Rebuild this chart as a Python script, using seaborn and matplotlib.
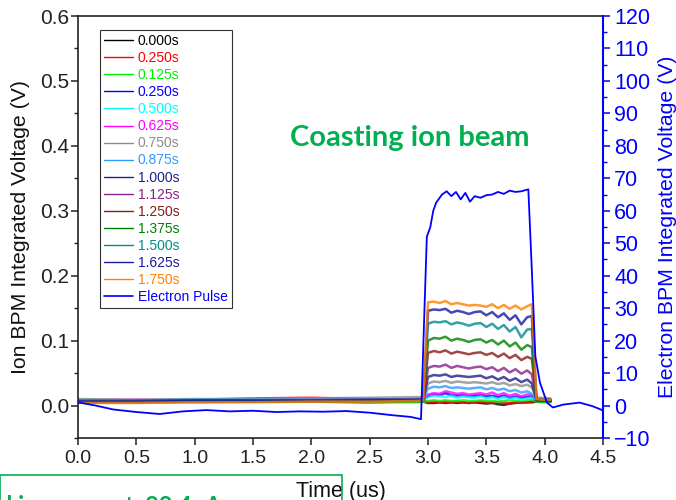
import numpy as np
import pandas as pd
import matplotlib
matplotlib.use("Agg")
import matplotlib.pyplot as plt
from matplotlib.lines import Line2D
from matplotlib.patches import Rectangle
from matplotlib.ticker import MultipleLocator
import seaborn as sns

# ---------------- data ----------------
T_ION = [0.0, 0.5, 1.0, 1.5, 2.0, 2.5, 2.9, 2.96,
         3.0, 3.05, 3.1, 3.15, 3.2, 3.25, 3.3, 3.35, 3.4, 3.45, 3.5, 3.55,
         3.6, 3.65, 3.7, 3.75, 3.8, 3.85, 3.89,
         3.93, 3.97, 4.05]

LABELS = ["0.000s", "0.250s", "0.125s", "0.250s", "0.500s", "0.625s", "0.750s",
          "0.875s", "1.000s", "1.125s", "1.250s", "1.375s", "1.500s", "1.625s",
          "1.750s"]
COLORS = ["#000000", "#FF0000", "#00EE00", "#0000FF", "#00FFFF", "#FF00FF",
          "#8C8C8C", "#2E9BFF", "#1F1F8A", "#8B1F8B", "#8B1A1A", "#008000",
          "#008B8B", "#1A1AA0", "#FF8000"]

ION_0000 = [0.006, 0.005, 0.006, 0.007, 0.006, 0.005, 0.006, 0.006,
            0.004, 0.004, 0.005, 0.004, 0.005, 0.004, 0.005, 0.004, 0.005, 0.004,
            0.003, 0.004, 0.002, 0.001, 0.003, 0.004, 0.005, 0.005, 0.005,
            0.006, 0.006, 0.006]
ION_0250A = [0.008, 0.007, 0.009, 0.011, 0.012, 0.010, 0.009, 0.008,
             0.005, 0.006, 0.005, 0.006, 0.005, 0.006, 0.005, 0.004, 0.005, 0.006,
             0.005, 0.004, 0.005, 0.004, 0.003, 0.005, 0.004, 0.005, 0.006,
             0.007, 0.008, 0.007]
ION_0125 = [0.005, 0.006, 0.005, 0.006, 0.007, 0.006, 0.005, 0.006,
            0.007, 0.008, 0.007, 0.008, 0.007, 0.007, 0.008, 0.007, 0.007, 0.008,
            0.007, 0.007, 0.006, 0.007, 0.008, 0.007, 0.007, 0.008, 0.009,
            0.006, 0.005, 0.005]
ION_0250B = [0.008, 0.007, 0.008, 0.008, 0.009, 0.008, 0.009, 0.009,
             0.014, 0.017, 0.016, 0.019, 0.016, 0.015, 0.016, 0.014, 0.015, 0.016,
             0.014, 0.015, 0.013, 0.015, 0.012, 0.014, 0.012, 0.013, 0.014,
             0.008, 0.008, 0.007]
ION_0500 = [0.009, 0.008, 0.009, 0.010, 0.009, 0.008, 0.009, 0.010,
            0.013, 0.015, 0.014, 0.013, 0.015, 0.012, 0.014, 0.013, 0.012, 0.014,
            0.011, 0.013, 0.010, 0.013, 0.010, 0.012, 0.009, 0.011, 0.012,
            0.009, 0.010, 0.009]
ION_0625 = [0.008, 0.009, 0.008, 0.009, 0.010, 0.009, 0.008, 0.009,
            0.017, 0.019, 0.018, 0.022, 0.020, 0.018, 0.019, 0.017, 0.018, 0.019,
            0.017, 0.020, 0.016, 0.019, 0.015, 0.018, 0.014, 0.017, 0.016,
            0.009, 0.009, 0.008]
ION_0750 = [0.010, 0.009, 0.010, 0.010, 0.011, 0.012, 0.013, 0.013,
            0.034, 0.037, 0.036, 0.038, 0.035, 0.037, 0.036, 0.035, 0.036, 0.035,
            0.034, 0.036, 0.033, 0.035, 0.031, 0.033, 0.030, 0.032, 0.028,
            0.012, 0.012, 0.011]
ION_0875 = [0.008, 0.008, 0.009, 0.009, 0.009, 0.009, 0.010, 0.010,
            0.026, 0.029, 0.028, 0.030, 0.027, 0.028, 0.027, 0.026, 0.027, 0.028,
            0.025, 0.027, 0.024, 0.026, 0.022, 0.024, 0.020, 0.022, 0.018,
            0.010, 0.010, 0.009]
ION_1000 = [0.007, 0.007, 0.008, 0.008, 0.008, 0.009, 0.009, 0.010,
            0.044, 0.047, 0.046, 0.048, 0.044, 0.046, 0.045, 0.044, 0.045, 0.046,
            0.042, 0.045, 0.040, 0.044, 0.038, 0.042, 0.036, 0.040, 0.034,
            0.010, 0.009, 0.009]
ION_1125 = [0.006, 0.007, 0.007, 0.008, 0.008, 0.008, 0.009, 0.009,
            0.058, 0.061, 0.060, 0.063, 0.058, 0.061, 0.059, 0.057, 0.059, 0.060,
            0.056, 0.059, 0.053, 0.058, 0.051, 0.056, 0.049, 0.054, 0.048,
            0.009, 0.008, 0.008]
ION_1250 = [0.005, 0.006, 0.006, 0.007, 0.007, 0.008, 0.008, 0.009,
            0.081, 0.084, 0.082, 0.085, 0.080, 0.083, 0.081, 0.079, 0.081, 0.082,
            0.078, 0.081, 0.075, 0.080, 0.073, 0.078, 0.070, 0.075, 0.072,
            0.009, 0.008, 0.008]
ION_1375 = [0.005, 0.005, 0.006, 0.006, 0.007, 0.007, 0.008, 0.008,
            0.100, 0.104, 0.103, 0.106, 0.100, 0.103, 0.101, 0.098, 0.101, 0.102,
            0.097, 0.101, 0.094, 0.100, 0.091, 0.097, 0.086, 0.093, 0.090,
            0.008, 0.008, 0.007]
ION_1500 = [0.006, 0.006, 0.006, 0.007, 0.007, 0.008, 0.008, 0.009,
            0.126, 0.129, 0.128, 0.130, 0.125, 0.128, 0.126, 0.123, 0.126, 0.127,
            0.121, 0.126, 0.118, 0.124, 0.114, 0.121, 0.105, 0.117, 0.118,
            0.009, 0.008, 0.008]
ION_1625 = [0.006, 0.006, 0.007, 0.007, 0.007, 0.008, 0.008, 0.009,
            0.146, 0.148, 0.147, 0.149, 0.143, 0.146, 0.144, 0.141, 0.144, 0.145,
            0.139, 0.144, 0.136, 0.142, 0.132, 0.139, 0.125, 0.136, 0.138,
            0.009, 0.008, 0.008]
ION_1750 = [0.004, 0.004, 0.005, 0.005, 0.006, 0.006, 0.007, 0.008,
            0.159, 0.160, 0.158, 0.161, 0.156, 0.158, 0.156, 0.154, 0.155, 0.154,
            0.152, 0.156, 0.150, 0.155, 0.149, 0.154, 0.148, 0.153, 0.156,
            0.010, 0.009, 0.009]

ION_SERIES = [ION_0000, ION_0250A, ION_0125, ION_0250B, ION_0500, ION_0625,
              ION_0750, ION_0875, ION_1000, ION_1125, ION_1250, ION_1375,
              ION_1500, ION_1625, ION_1750]

T_E = [0.0, 0.15, 0.3, 0.5, 0.7, 0.9, 1.1, 1.3, 1.5, 1.7, 1.9, 2.1, 2.3, 2.5,
       2.7, 2.85, 2.94, 2.97, 2.99, 3.02, 3.045, 3.07, 3.12, 3.16, 3.2, 3.24,
       3.28, 3.32, 3.36, 3.4, 3.45, 3.5, 3.55, 3.6, 3.65, 3.7, 3.75, 3.8, 3.86,
       3.89, 3.92, 3.96, 4.02, 4.07, 4.16, 4.3, 4.41, 4.5]
E_PULSE = [1.0, 0.0, -1.2, -2.0, -2.6, -1.8, -1.4, -1.8, -1.6, -2.0, -1.8, -1.9,
           -1.7, -2.2, -3.0, -3.5, -4.2, 30.0, 52.0, 55.0, 60.0, 62.5, 65.0,
           66.0, 64.5, 65.8, 63.5, 65.5, 62.8, 64.5, 64.0, 64.8, 65.0, 65.8, 65.2,
           66.2, 65.8, 66.0, 66.6, 41.8, 15.2, 7.0, 0.9, -0.6, 0.3, 0.9, -0.2,
           -1.5]

# ---------------- style ----------------
sns.set_style("ticks")
plt.rcParams["font.family"] = ["Liberation Sans", "DejaVu Sans"]

fig = plt.figure(figsize=(6.76, 5.0), dpi=100)
ax = fig.add_axes([78 / 676, 1 - 438 / 500, 525 / 676, 422 / 500])
ax2 = ax.twinx()

for vals, col, lab in zip(ION_SERIES, COLORS, LABELS):
    df = pd.DataFrame({"t": T_ION, "v": vals})
    sns.lineplot(data=df, x="t", y="v", ax=ax, color=col, lw=1.8, alpha=0.8,
                 estimator=None, sort=False, legend=False)

dfe = pd.DataFrame({"t": T_E, "v": E_PULSE})
sns.lineplot(data=dfe, x="t", y="v", ax=ax2, color="#0000FF", lw=1.3,
             estimator=None, sort=False, legend=False)

ax.set_xlim(0, 4.5)
ax.set_ylim(-0.05, 0.6)
ax2.set_ylim(-10, 120)
ax.xaxis.set_major_locator(MultipleLocator(0.5))
ax.yaxis.set_major_locator(MultipleLocator(0.1))
ax.yaxis.set_minor_locator(MultipleLocator(0.05))
ax2.yaxis.set_major_locator(MultipleLocator(10))
ax2.yaxis.set_minor_locator(MultipleLocator(5))

ax.set_xticklabels([f"{v:.1f}" for v in ax.get_xticks()])
ax.set_yticklabels([f"{v:.1f}" for v in ax.get_yticks()])

for sp in ["top", "left", "bottom"]:
    ax.spines[sp].set_visible(True)
    ax.spines[sp].set_linewidth(1.2)
    ax.spines[sp].set_color("#222222")
ax.spines["right"].set_visible(False)
ax2.spines["right"].set_color("#0000FF")
ax2.spines["right"].set_linewidth(1.5)
for sp in ["top", "left", "bottom"]:
    ax2.spines[sp].set_visible(False)

ax.tick_params(axis="x", which="major", direction="out", length=5, width=1.1,
               labelsize=14, colors="#222222")
ax.tick_params(axis="y", which="major", direction="out", length=5, width=1.1,
               labelsize=15, colors="#222222", pad=1.5)
ax.tick_params(axis="y", which="minor", direction="out", length=3, width=1.0,
               colors="#222222")
ax2.tick_params(axis="y", which="major", direction="out", length=5, width=1.1,
                labelsize=15.5, colors="#0000FF", pad=3)
ax2.tick_params(axis="y", which="minor", direction="out", length=3, width=1.0,
                colors="#0000FF")

ax.set_xlabel("Time (us)", fontsize=15.5, color="#111111", labelpad=10)
ax.set_ylabel("Ion BPM Integrated Voltage (V)", fontsize=15.3, color="#111111",
              labelpad=7)
ax2.set_ylabel("Electron BPM Integrated Voltage (V)", fontsize=15.3,
               color="#0000FF", labelpad=5)

ax.text(0.632, 0.712, "Coasting ion beam", transform=ax.transAxes,
        ha="center", va="center", fontsize=21, fontweight="bold",
        color="#00B050", family=["Lato", "DejaVu Sans"])

handles = [Line2D([], [], color=c, lw=1.0) for c in COLORS]
handles.append(Line2D([], [], color="#0000FF", lw=1.2))
labels = LABELS + ["Electron Pulse"]
leg = ax2.legend(handles, labels, loc="upper left",
                 bbox_to_anchor=(0.042, 0.967), borderaxespad=0,
                 fontsize=10, frameon=True, fancybox=False,
                 edgecolor="#333333", framealpha=1, handlelength=2.1,
                 handletextpad=0.3, labelspacing=0.22, borderpad=0.3)
leg.get_frame().set_linewidth(0.8)
for txt, c in zip(leg.get_texts(), COLORS + ["#0000FF"]):
    txt.set_color(c)

# green annotation box at bottom-left
fig.patches.append(Rectangle((0, -0.02), 342 / 676, 0.02 + 25 / 500,
                             transform=fig.transFigure, fill=False,
                             edgecolor="#00B050", lw=1.2, zorder=10))
fig.text(222 / 676, -0.026, "Total ion current, 88.4uA", ha="right",
         va="baseline", fontsize=17, fontweight="bold", color="#00B050",
         family=["Lato", "DejaVu Sans"])

fig.savefig("out.png", dpi=100)
